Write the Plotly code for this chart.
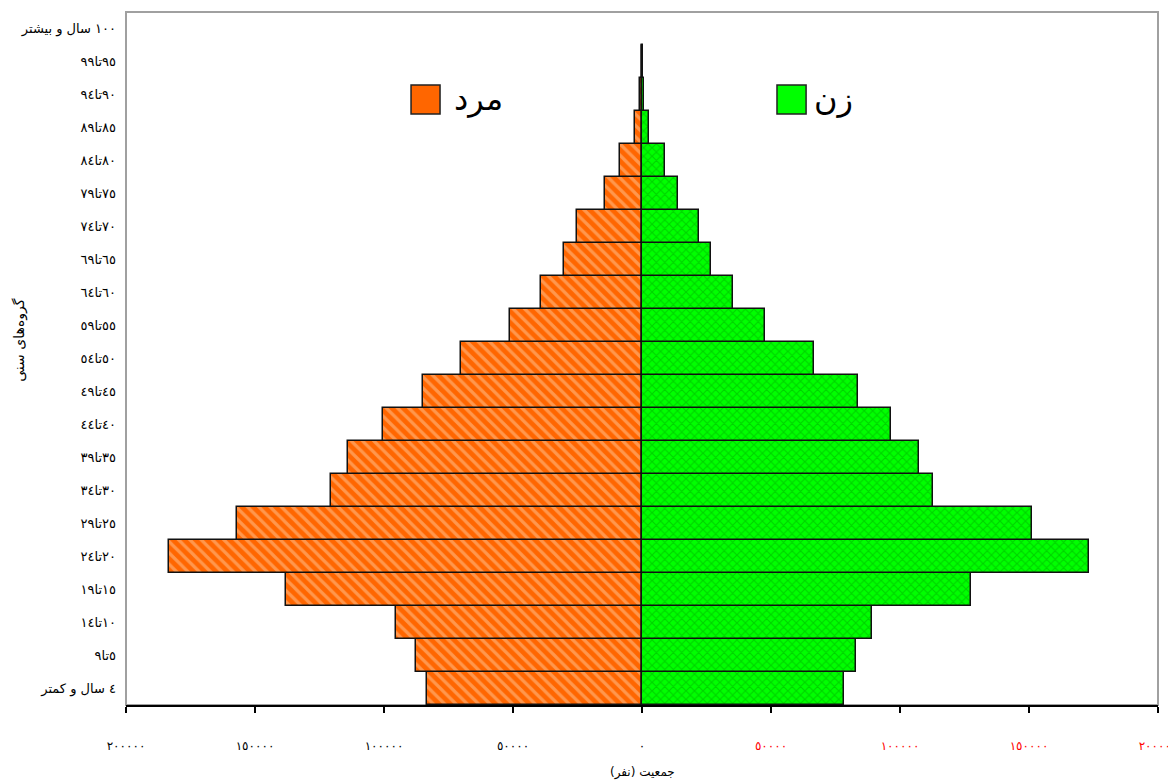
import plotly.graph_objects as go

# Age groups (bottom to top)
age_groups = [
    "٤ سال و کمتر",
    "٥تا٩", "١٠تا١٤", "١٥تا١٩", "٢٠تا٢٤", "٢٥تا٢٩", "٣٠تا٣٤", "٣٥تا٣٩",
    "٤٠تا٤٤", "٤٥تا٤٩", "٥٠تا٥٤", "٥٥تا٥٩", "٦٠تا٦٤", "٦٥تا٦٩", "٧٠تا٧٤",
    "٧٥تا٧٩", "٨٠تا٨٤", "٨٥تا٨٩", "٩٠تا٩٤", "٩٥تا٩٩",
    "١٠٠ سال و بیشتر",
]

male = [83400, 87600, 95400, 137800, 183400, 157100, 120500, 113900, 100400,
        84900, 70300, 51000, 39000, 30100, 25100, 14300, 8500, 2700, 600, 150, 0]
female = [78400, 83000, 89200, 127400, 173400, 151000, 112700, 107300, 96500,
          83800, 66800, 47500, 35100, 26600, 22000, 13900, 8900, 2700, 600, 200, 0]

tick_vals = [-200000, -150000, -100000, -50000, 0, 50000, 100000, 150000, 200000]
tick_text = ["٢٠٠٠٠٠", "١٥٠٠٠٠", "١٠٠٠٠٠", "٥٠٠٠٠", "٠",
             "<span style='color:#FF0000'>٥٠٠٠٠</span>",
             "<span style='color:#FF0000'>١٠٠٠٠٠</span>",
             "<span style='color:#FF0000'>١٥٠٠٠٠</span>",
             "<span style='color:#FF0000'>٢٠٠٠٠٠</span>"]

male_name = "مرد"
female_name = "زن"
x_title = "جمعیت (نفر)"
y_title = "گروه‌های سنی"

FONT = "DejaVu Sans"

# outline only where a bar has a value
male_lw = [1.5 if v else 0 for v in male]
female_lw = [1.5 if v else 0 for v in female]

fig = go.Figure()
fig.add_trace(go.Bar(
    y=age_groups, x=[-v for v in male], orientation="h", name=male_name,
    marker=dict(color="#FF6600", line=dict(color="#111111", width=male_lw),
                pattern=dict(shape="\\", fgcolor="#FFC89A", bgcolor="#FF6600",
                             size=8, solidity=0.4, fillmode="overlay")),
    showlegend=False,
))
fig.add_trace(go.Bar(
    y=age_groups, x=female, orientation="h", name=female_name,
    marker=dict(color="#00FF00", line=dict(color="#111111", width=female_lw),
                pattern=dict(shape="x", fgcolor="#00A800", bgcolor="#00FF00",
                             size=6, solidity=0.35, fillmode="overlay")),
    showlegend=False,
))

# frame
fig.add_shape(type="rect", xref="paper", yref="paper", x0=0, x1=1, y0=0, y1=1,
              line=dict(color="#A0A0A0", width=2), layer="below")

# legend swatches and labels
fig.add_shape(type="rect", xref="paper", yref="paper", x0=0.2762, x1=0.3043,
              y0=0.8528, y1=0.8947, fillcolor="#FF6600",
              line=dict(color="#222222", width=1.5))
fig.add_shape(type="rect", xref="paper", yref="paper", x0=0.6308, x1=0.659,
              y0=0.8528, y1=0.8947, fillcolor="#00FF00",
              line=dict(color="#222222", width=1.5))
fig.add_annotation(xref="paper", yref="paper", x=0.3159, y=0.875, text=male_name,
                   showarrow=False, xanchor="left", yanchor="middle",
                   font=dict(family=FONT, size=32, color="#000000"))
fig.add_annotation(xref="paper", yref="paper", x=0.6647, y=0.875, text=female_name,
                   showarrow=False, xanchor="left", yanchor="middle",
                   font=dict(family=FONT, size=32, color="#000000"))

# axis titles
fig.add_annotation(xref="paper", yref="paper", x=0.5, y=-0.098, text=x_title,
                   showarrow=False, xanchor="center", yanchor="middle",
                   font=dict(family=FONT, size=12, color="#000000"))
fig.add_annotation(xref="paper", yref="paper", x=-0.1027, y=0.527, text=y_title,
                   showarrow=False, xanchor="center", yanchor="middle", textangle=-90,
                   font=dict(family=FONT, size=14, color="#000000"))

# the page body adds an 8px offset, margins compensate for it
fig.update_layout(
    width=1176, height=783,
    margin=dict(l=118, r=26, t=4, b=86, autoexpand=False),
    paper_bgcolor="white", plot_bgcolor="white",
    barmode="overlay", bargap=0,
    font=dict(family=FONT, size=11, color="#000000"),
    xaxis=dict(
        range=[-200000, 200000], tickmode="array", tickvals=tick_vals,
        ticktext=tick_text, showgrid=False, zeroline=False,
        showline=True, linecolor="#000000", linewidth=1.5,
        ticks="outside", ticklen=6, tickcolor="#000000", tickwidth=1.5,
        ticklabelstandoff=23, tickfont=dict(family=FONT, size=12),
        automargin=False, fixedrange=True,
    ),
    yaxis=dict(
        type="category", categoryorder="array", categoryarray=age_groups,
        range=[-0.5, 20.5], showgrid=False, zeroline=False, showline=False,
        ticks="", ticklabelstandoff=9, tickfont=dict(family=FONT, size=13),
        automargin=False, fixedrange=True,
    ),
)

fig.write_html("out.html")
